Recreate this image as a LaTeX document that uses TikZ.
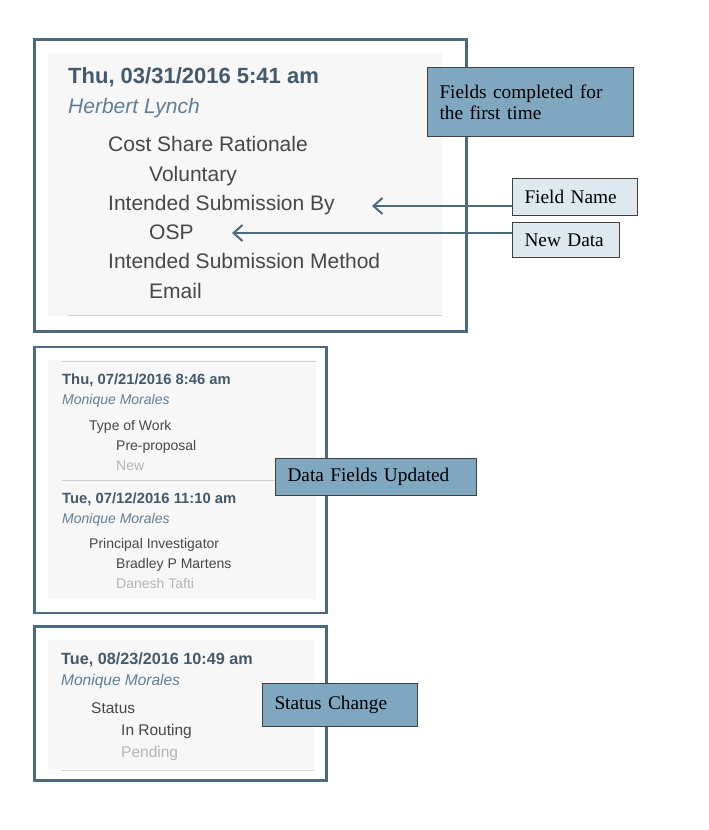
\documentclass[tikz,border=0pt]{standalone}
\usepackage{fontspec}
\setmainfont{Liberation Sans}
\newfontfamily\notefont{Liberation Serif}
\usetikzlibrary{arrows.meta}
\usetikzlibrary{positioning}
\definecolor{framecol}{HTML}{4B6A80}
\definecolor{sheetcol}{HTML}{F7F7F7}
\definecolor{rulecol}{HTML}{D0D0D0}
\definecolor{stampcol}{HTML}{44596B}
\definecolor{whocol}{HTML}{5E7F98}
\definecolor{fieldcol}{HTML}{474747}
\definecolor{oldcol}{HTML}{B4B4B4}
\definecolor{notedark}{HTML}{7FA7BF}
\definecolor{notelight}{HTML}{DDE8EF}

\begin{document}
\begin{tikzpicture}[x=1pt,y=-1pt,
  box/.style={draw=framecol,line width=2.8pt},
  sheet/.style={fill=sheetcol},
  rule/.style={draw=rulecol,line width=1pt},
  txt/.style={anchor=base west,inner sep=0pt},
  stamp/.style={txt,text=stampcol,font=\bfseries\fontsize{#1}{#1}\selectfont},
  who/.style={txt,text=whocol,font=\itshape\fontsize{#1}{#1}\selectfont},
  field/.style={txt,text=fieldcol,font=\fontsize{#1}{#1}\selectfont},
  oldval/.style={txt,text=oldcol,font=\fontsize{#1}{#1}\selectfont},
  note/.style={draw=black!75,line width=1pt,anchor=north west,align=left,inner xsep=12pt,inner ysep=0pt,font=\notefont\fontsize{19.3}{21}\selectfont},
  pointer/.style={draw=framecol,line width=2pt,-{Straight Barb[length=9pt,width=16pt]}}]
\useasboundingbox (0,0) rectangle (709,830);

\draw[box] (34.5,39.5) rectangle (466.5,331.5);
\fill[sheet] (48,53) rectangle (442,316);
\draw[rule] (68,315) -- (442,315);
\node[stamp=22] (stampA) at (68,83) {Thu, 03/31/2016 5:41 am};
\node[who=21] (whoA) at (68,113) {Herbert Lynch};
\node[field=21] (costName) at (108,151) {Cost Share Rationale};
\node[field=21] (costVal) at (149,181) {Voluntary};
\node[field=21] (byName) at (108,210) {Intended Submission By};
\node[field=21] (byVal) at (149,239) {OSP};
\node[field=21] (methName) at (108,268) {Intended Submission Method};
\node[field=21] (methVal) at (149,298) {Email};

\draw[box] (34.5,347) rectangle (326.5,613);
\fill[sheet] (48,360) rectangle (316,599);
\draw[rule] (62,361) -- (316,361);
\draw[rule] (62,480) -- (316,480);
\node[stamp=14.8] (stampB) at (62,384) {Thu, 07/21/2016 8:46 am};
\node[who=14] (whoB) at (62,404) {Monique Morales};
\node[field=14] (workName) at (89,430) {Type of Work};
\node[field=14] (workVal) at (116,450) {Pre-proposal};
\node[oldval=14] (workOld) at (116,470) {New};
\node[stamp=14.8] (stampC) at (62,503) {Tue, 07/12/2016 11:10 am};
\node[who=14] (whoC) at (62,523) {Monique Morales};
\node[field=14] (piName) at (89,548) {Principal Investigator};
\node[field=14] (piVal) at (116,568) {Bradley P Martens};
\node[oldval=14] (piOld) at (116,588) {Danesh Tafti};

\draw[box] (34.5,626.5) rectangle (326.5,780.5);
\fill[sheet] (48,640) rectangle (314,769);
\draw[rule] (61,770) -- (314,770);
\node[stamp=16.2] (stampD) at (61,664) {Tue, 08/23/2016 10:49 am};
\node[who=15.5] (whoD) at (61,685) {Monique Morales};
\node[field=15.5] (statName) at (91,713) {Status};
\node[field=15.5] (statVal) at (121,735) {In Routing};
\node[oldval=15.5] (statOld) at (121,757) {Pending};

\node[note,fill=notedark,minimum width=206pt,minimum height=69pt,text width=182pt] (firstTime) at (427,67) {Fields completed for\\the first time};
\node[note,fill=notelight,minimum width=125pt,minimum height=37pt,text width=101pt] (fname) at (512,178) {Field Name};
\node[note,fill=notelight,minimum width=107pt,minimum height=35pt,text width=83pt] (fdata) at (512,222) {New Data};
\node[note,fill=notedark,minimum width=201pt,minimum height=37pt,text width=177pt] (updated) at (275,458) {Data Fields Updated};
\node[note,fill=notedark,minimum width=155pt,minimum height=43pt,text width=131pt] (status) at (262,683) {Status Change};

\coordinate (nameTip) at (372,206);
\coordinate (dataTip) at (232,233);
\draw[pointer] (nameTip -| fname.west) -- (nameTip);
\draw[pointer] (dataTip -| fdata.west) -- (dataTip);

\end{tikzpicture}
\end{document}
